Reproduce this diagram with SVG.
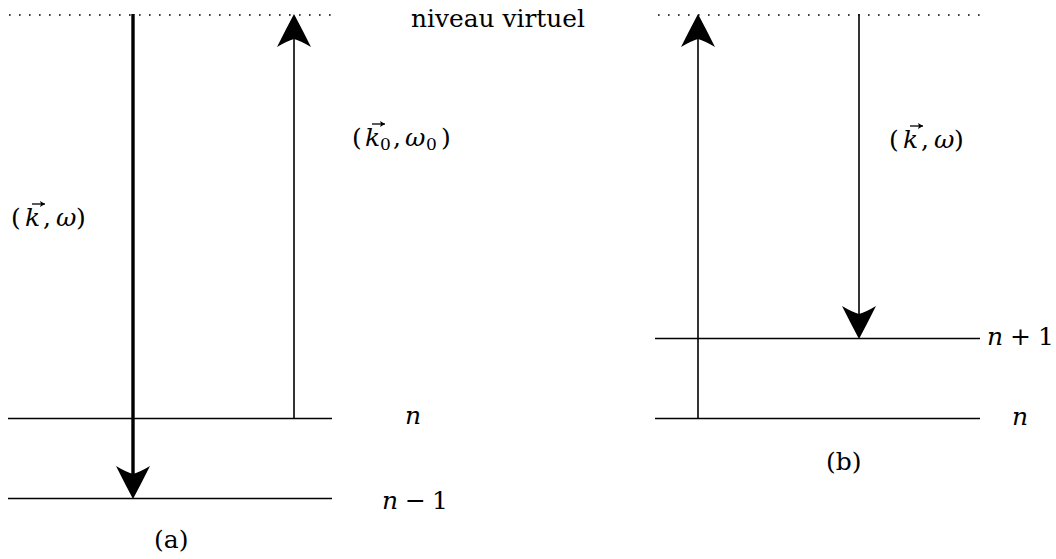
<svg xmlns="http://www.w3.org/2000/svg" width="1056" height="559" viewBox="0 0 1056 559">
<style>
.lv{stroke:#000;stroke-width:1.6;fill:none}
.dot{stroke:#000;stroke-width:1.6;stroke-dasharray:1.6 8.4;fill:none}
.thin{stroke:#000;stroke-width:1.6;fill:none}
.thick{stroke:#000;stroke-width:3.4;fill:none}
.vec{stroke:#000;stroke-width:1.3;fill:none}
.t{font-family:"DejaVu Serif","Liberation Serif",serif;font-size:25px;fill:#000}
.m{font-style:italic}
.s{font-size:17px}
</style>
<defs>
<marker id="ah" markerUnits="userSpaceOnUse" markerWidth="40" markerHeight="40" viewBox="-36 -20 40 40" refX="-24" refY="0" orient="auto" overflow="visible">
<path d="M0,0 Q-15,-8 -33,-17 Q-27,-7 -25,0 Q-27,7 -33,17 Q-15,8 0,0 Z" fill="#000"/>
</marker>
<marker id="va" markerUnits="userSpaceOnUse" markerWidth="8" markerHeight="8" viewBox="-6 -4 8 8" refX="0" refY="0" orient="auto" overflow="visible">
<path d="M0,0 L-5,-3 L-4,0 L-5,3 Z" fill="#000"/>
</marker>
</defs>
<rect width="1056" height="559" fill="#fff"/>
<g id="a-levels">
<line class="dot" x1="9" y1="15" x2="334" y2="15"/>
<line class="lv" x1="8" y1="418.5" x2="332" y2="418.5"/>
<line class="lv" x1="8" y1="498.5" x2="332" y2="498.5"/>
</g>
<g id="b-levels">
<line class="dot" x1="658" y1="15" x2="982" y2="15"/>
<line class="lv" x1="655" y1="338.5" x2="980" y2="338.5"/>
<line class="lv" x1="655" y1="418.5" x2="980" y2="418.5"/>
</g>
<g id="connectors">
<line class="thick" x1="133" y1="14" x2="133" y2="475" marker-end="url(#ah)"/>
<line class="thin" x1="294" y1="418" x2="294" y2="38" marker-end="url(#ah)"/>
<line class="thin" x1="698" y1="418" x2="698" y2="38" marker-end="url(#ah)"/>
<line class="thin" x1="859" y1="14" x2="859" y2="315" marker-end="url(#ah)"/>
</g>
<g id="label-virtuel"><text class="t" x="411" y="27" textLength="174" lengthAdjust="spacingAndGlyphs">niveau virtuel</text></g>
<g id="label-k0"><text class="t" x="352" y="146">(<tspan class="m" x="365">k</tspan><tspan class="s" x="380" y="150">0</tspan><tspan x="393" y="146">,</tspan><tspan class="m" x="405">ω</tspan><tspan class="s" x="426" y="150">0</tspan><tspan x="441" y="146">)</tspan></text><line class="vec" x1="372" y1="124" x2="385" y2="124" marker-end="url(#va)"/></g>
<g id="label-k-a"><text class="t" x="11" y="226">(<tspan class="m" x="25">k</tspan><tspan x="43">,</tspan><tspan class="m" x="56">ω</tspan><tspan x="76">)</tspan></text><line class="vec" x1="32" y1="204" x2="45" y2="204" marker-end="url(#va)"/></g>
<g id="label-k-b"><text class="t" x="889" y="148">(<tspan class="m" x="903">k</tspan><tspan x="921">,</tspan><tspan class="m" x="934">ω</tspan><tspan x="954">)</tspan></text><line class="vec" x1="910" y1="126" x2="923" y2="126" marker-end="url(#va)"/></g>
<g id="label-n-a"><text class="t m" x="405" y="424">n</text></g>
<g id="label-n1-a"><text class="t" x="382" y="509"><tspan class="m">n</tspan><tspan x="405">−</tspan><tspan x="432">1</tspan></text></g>
<g id="label-n-b"><text class="t m" x="1012" y="425">n</text></g>
<g id="label-n1-b"><text class="t" x="987" y="345"><tspan class="m">n</tspan><tspan x="1010">+</tspan><tspan x="1038">1</tspan></text></g>
<g id="label-a"><text class="t" x="154" y="548">(a)</text></g>
<g id="label-b"><text class="t" x="826" y="470">(b)</text></g>
</svg>
